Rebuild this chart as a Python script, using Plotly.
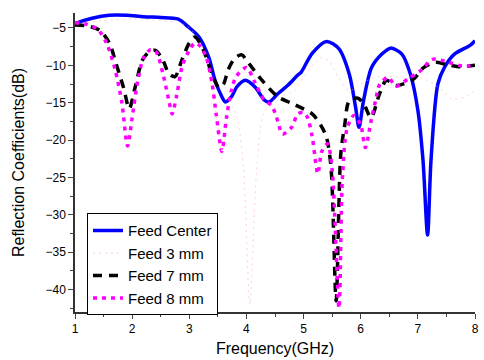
import plotly.graph_objects as go

# Feed Center
fc_x = [1.0, 1.3, 1.6, 1.9, 2.2, 2.5, 2.8, 2.99, 3.17, 3.34, 3.45, 3.57, 3.63, 3.74, 3.83, 3.98, 4.15, 4.32, 4.4, 4.55, 4.72, 4.9, 4.96, 5.15, 5.4, 5.62, 5.8, 5.91, 5.97, 6.05, 6.19, 6.37, 6.52, 6.72, 6.87, 7.0, 7.09, 7.17, 7.23, 7.35, 7.47, 7.64, 7.92, 8.0]
fc_y = [-4.4, -3.7, -3.3, -3.3, -3.5, -3.6, -3.8, -4.9, -6.2, -8.9, -12.0, -14.2, -14.9, -14.2, -12.9, -12.0, -12.9, -14.7, -14.9, -13.8, -12.7, -11.3, -10.9, -8.4, -6.8, -7.8, -11.2, -15.6, -18.3, -14.7, -10.3, -8.5, -7.7, -8.5, -11.2, -16.0, -22.7, -32.7, -22.7, -12.5, -10.2, -8.5, -7.3, -6.7]

# Feed 3 mm
f3_x = [1.0, 1.5, 2.0, 2.5, 2.8, 3.0, 3.2, 3.35, 3.5, 3.57, 3.65, 3.75, 3.85, 3.95, 4.06, 4.17, 4.3, 4.5, 4.84, 5.0, 5.3, 5.45, 5.6, 5.8, 6.0, 6.3, 6.75, 7.15, 7.4, 7.6, 7.8, 8.0]
f3_y = [-4.5, -4.0, -3.8, -4.0, -4.3, -5.0, -7.0, -11.0, -18.0, -22.5, -18.0, -15.5, -17.5, -24.0, -42.0, -25.0, -16.5, -14.5, -13.4, -11.6, -9.0, -9.5, -11.5, -13.4, -12.5, -11.5, -11.6, -12.0, -13.2, -14.5, -14.3, -13.4]

# Feed 7 mm
f7_x = [1.0, 1.2, 1.43, 1.6, 1.72, 1.85, 1.95, 2.05, 2.18, 2.3, 2.41, 2.55, 2.64, 2.75, 2.87, 3.0, 3.1, 3.25, 3.39, 3.52, 3.6, 3.68, 3.8, 3.92, 4.0, 4.24, 4.55, 4.8, 5.15, 5.3, 5.4, 5.48, 5.57, 5.65, 5.72, 5.8, 5.95, 6.05, 6.18, 6.33, 6.45, 6.62, 6.93, 7.1, 7.31, 7.5, 7.75, 8.0]
f7_y = [-4.6, -4.7, -5.3, -7.0, -9.8, -13.0, -15.8, -13.0, -9.3, -8.2, -8.0, -9.5, -11.1, -11.5, -9.3, -7.0, -6.2, -8.0, -11.0, -13.0, -12.5, -10.6, -9.0, -8.6, -9.3, -11.7, -14.2, -15.1, -16.5, -18.0, -19.6, -23.6, -41.5, -22.0, -18.0, -14.7, -14.4, -15.1, -17.0, -13.8, -12.0, -12.7, -11.8, -10.3, -9.6, -9.9, -10.2, -10.0]

# Feed 8 mm
f8_x = [1.0, 1.2, 1.4, 1.55, 1.7, 1.82, 1.92, 2.0, 2.1, 2.2, 2.32, 2.42, 2.55, 2.65, 2.7, 2.78, 2.88, 3.0, 3.1, 3.2, 3.3, 3.4, 3.47, 3.57, 3.65, 3.73, 3.82, 4.0, 4.15, 4.3, 4.45, 4.55, 4.63, 4.79, 4.9, 5.0, 5.07, 5.15, 5.25, 5.32, 5.42, 5.5, 5.62, 5.68, 5.76, 5.88, 6.0, 6.08, 6.18, 6.26, 6.33, 6.48, 6.62, 6.83, 7.05, 7.26, 7.54, 7.78, 8.0]
f8_y = [-4.3, -4.5, -5.2, -7.0, -10.5, -15.0, -20.8, -17.0, -12.0, -9.0, -7.9, -8.2, -11.5, -15.0, -16.5, -14.0, -10.0, -8.0, -7.0, -7.5, -9.0, -12.5, -16.5, -21.5, -17.0, -13.6, -11.5, -10.3, -12.3, -14.5, -15.5, -17.5, -19.2, -18.3, -16.5, -16.3, -17.0, -19.5, -24.5, -21.5, -20.5, -24.0, -42.5, -25.0, -18.5, -16.7, -18.0, -21.0, -17.5, -14.7, -12.6, -11.6, -12.8, -11.8, -10.7, -9.2, -9.6, -10.1, -10.0]

x_ticks = [1, 2, 3, 4, 5, 6, 7, 8]
y_ticks = [-5, -10, -15, -20, -25, -30, -35, -40]

fig = go.Figure()
fig.add_trace(go.Scatter(x=fc_x, y=fc_y, name="Feed Center", mode="lines",
                         line=dict(color="#0000ff", width=3.5, shape="spline", smoothing=0.8)))
fig.add_trace(go.Scatter(x=f3_x, y=f3_y, name="Feed 3 mm", mode="lines",
                         line=dict(color="rgba(255,170,170,0.55)", width=1, dash="2px,4px", shape="spline", smoothing=0.8)))
fig.add_trace(go.Scatter(x=f7_x, y=f7_y, name="Feed 7 mm", mode="lines",
                         line=dict(color="#000000", width=3.5, dash="9px,7px", shape="spline", smoothing=0.8)))
fig.add_trace(go.Scatter(x=f8_x, y=f8_y, name="Feed 8 mm", mode="lines",
                         line=dict(color="#ff00ff", width=3.5, dash="4px,5px", shape="spline", smoothing=0.8)))

axis_font = dict(family="Liberation Sans, Arial, sans-serif", size=12, color="#000000")
fig.update_layout(
    width=484, height=360,
    margin=dict(l=75, r=5, t=13, b=48),
    paper_bgcolor="white", plot_bgcolor="white",
    font=axis_font,
    showlegend=True,
    legend=dict(x=0.03, y=0.33, xanchor="left", yanchor="top",
                bgcolor="white", bordercolor="#000000", borderwidth=1,
                font=dict(family="Liberation Sans, Arial, sans-serif", size=15, color="#000000"),
                tracegroupgap=0, itemwidth=30),
    xaxis=dict(range=[1, 8], tickvals=x_ticks, ticks="outside", ticklen=5, tickwidth=1.2,
               showline=True, linecolor="#333333", linewidth=1.5, showgrid=False, zeroline=False,
               minor=dict(dtick=0.5, ticks="outside", ticklen=3, tickwidth=1.2),
               title=dict(text="Frequency(GHz)", font=dict(size=16), standoff=8)),
    yaxis=dict(range=[-43, -3], tickvals=y_ticks, ticks="outside", ticklen=5, tickwidth=1.2,
               showline=True, linecolor="#333333", linewidth=1.5, showgrid=False, zeroline=False,
               minor=dict(dtick=2.5, tick0=-5, ticks="outside", ticklen=3, tickwidth=1.2),
               title=dict(text="Reflection Coefficients(dB)", font=dict(size=16), standoff=17)),
)

fig.write_html("out.html")
